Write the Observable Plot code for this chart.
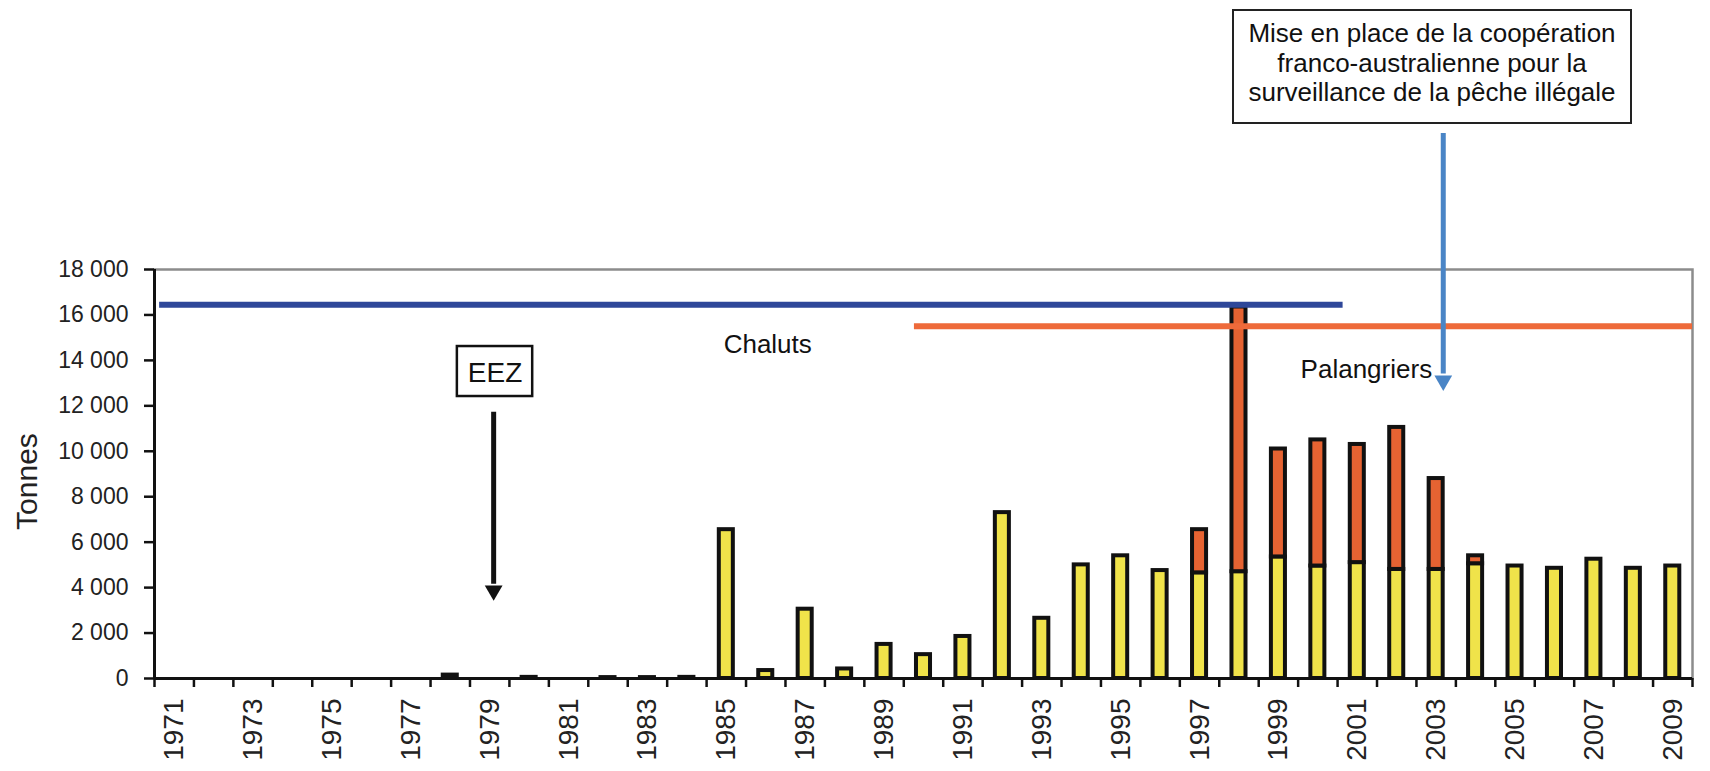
<!DOCTYPE html>
<html><head><meta charset="utf-8">
<script src="https://cdn.jsdelivr.net/npm/d3@7"></script>
<script src="https://cdn.jsdelivr.net/npm/@observablehq/plot@0.6"></script>
<style>
body{margin:0;background:#fff;font-family:"Liberation Sans",Arial,sans-serif}
#wrap{position:relative;width:1710px;height:771px}
#note{position:absolute;left:1232px;top:9px;width:400px;height:115px;box-sizing:border-box;border:2px solid #222;font-size:26px;line-height:29.5px;text-align:center;padding-top:8px;color:#111;background:#fff}
</style></head><body>
<div id="wrap"><div id="chart"></div><div id="note">Mise en place de la coopération<br>franco-australienne pour la<br>surveillance de la pêche illégale</div></div>
<script>
// Years (categories)
const years = [1971,1972,1973,1974,1975,1976,1977,1978,1979,1980,1981,1982,1983,1984,1985,1986,1987,1988,1989,1990,1991,1992,1993,1994,1995,1996,1997,1998,1999,2000,2001,2002,2003,2004,2005,2006,2007,2008,2009];
// Yellow series (tonnes)
const legalCatch = [0,0,0,0,0,0,0,150,0,50,0,40,40,50,6550,350,3050,420,1500,1050,1850,7300,2650,5000,5400,4750,4650,4700,5350,4950,5100,4800,4800,5050,4950,4850,5250,4850,4950];
// Orange series (tonnes)
const illegalCatch = [0,0,0,0,0,0,0,0,0,0,0,0,0,0,0,0,0,0,0,0,0,0,0,0,0,0,1900,11650,4750,5550,5200,6250,4000,350,0,0,0,0,0];
// Axis tick labels
const yTicks = [0,2000,4000,6000,8000,10000,12000,14000,16000,18000];
const xLabelYears = [1971,1973,1975,1977,1979,1981,1983,1985,1987,1989,1991,1993,1995,1997,1999,2001,2003,2005,2007,2009];
// Fleet periods (horizontal lines)
const fleetNames = ["Chaluts","Palangriers"];
const fleetStart = [1970.63, 1989.77];
const fleetEnd = [2000.64, 2009.5];
const fleetLevel = [16450, 15500];
const fleetColor = ["#2e4799","#ee6a3a"];
const fleetLabelX = [1986.05, 2001.23];
const fleetLabelY = [14670, 13570];
// Annotation arrows: EEZ (1979) and cooperation (2003)
const arrowX = [1979.1, 2003.18];
const arrowTop = [11720, 23990];
const arrowShaftEnd = [4150, 13400];
const arrowHead = [3870, 13110];
const arrowColor = ["#111","#4a85c6"];
const eezBox = {x1: 1978.18, x2: 1980.09, y1: 12410, y2: 14610, label: "EEZ", labelY: 13440};

const rows = years.map((y,i)=>({year:y, legal:legalCatch[i], illegal:illegalCatch[i]}));
const boundaries = [1970.5].concat(years.map(y=>y+0.5));
const fmt = d3.formatLocale({thousands:" ", grouping:[3], decimal:","}).format(",");
const fleets = fleetNames.map((n,i)=>({name:n, x1:fleetStart[i], x2:fleetEnd[i], y:fleetLevel[i], color:fleetColor[i], lx:fleetLabelX[i], ly:fleetLabelY[i]}));
const arrows = arrowX.map((x,i)=>({x, top:arrowTop[i], end:arrowShaftEnd[i], head:arrowHead[i], color:arrowColor[i]}));

const chart = Plot.plot({
  width: 1710, height: 771,
  marginLeft: 154, marginRight: 18, marginTop: 269, marginBottom: 93,
  style: {fontFamily: '"Liberation Sans", Arial, sans-serif', background: "transparent", color: "#222"},
  x: {domain: [1970.5, 2009.5], axis: null},
  y: {domain: [0, 18000], axis: null},
  marks: [
    Plot.frame({stroke: "#8c8c8c", strokeWidth: 2.5}),
    Plot.rect(rows.filter(d=>d.legal>0), {x1: d=>d.year-0.5, x2: d=>d.year+0.5, y1: 0, y2: "legal", insetLeft: 12.7, insetRight: 12.7, fill: "#f0e34a", stroke: "#111", strokeWidth: 4}),
    Plot.rect(rows.filter(d=>d.illegal>0), {x1: d=>d.year-0.5, x2: d=>d.year+0.5, y1: "legal", y2: d=>d.legal+d.illegal, insetLeft: 12.7, insetRight: 12.7, fill: "#e66332", stroke: "#111", strokeWidth: 4}),
    Plot.ruleY(fleets, {y: "y", x1: "x1", x2: "x2", stroke: "color", strokeWidth: 6}),
    Plot.text(fleets, {x: "lx", y: "ly", text: "name", fontSize: 26, fill: "#111", textAnchor: "middle", lineAnchor: "middle"}),
    Plot.ruleX([1970.5], {stroke: "#111", strokeWidth: 3}),
    Plot.ruleY([0], {stroke: "#111", strokeWidth: 3}),
    Plot.ruleX(boundaries, {x: d=>d, y1: 0, y2: 0, insetTop: 0, insetBottom: -9, stroke: "#111", strokeWidth: 2.5}),
    Plot.axisY({ticks: yTicks, tickSize: 10, tickPadding: 16, tickFormat: fmt, fontSize: 23, stroke: "#111", strokeWidth: 2.5, label: null}),
    Plot.text(xLabelYears, {x: d=>d, frameAnchor: "bottom", dy: 20, rotate: -90, text: d=>String(d), textAnchor: "end", lineAnchor: "middle", fontSize: 28, fill: "#222"}),
    Plot.text(["Tonnes"], {frameAnchor: "left", dx: -127, dy: 7.5, rotate: -90, textAnchor: "middle", lineAnchor: "middle", fontSize: 30, fill: "#222"}),
    Plot.rect([eezBox], {x1: "x1", x2: "x2", y1: "y1", y2: "y2", fill: "white", stroke: "#111", strokeWidth: 2.5}),
    Plot.text([eezBox], {x: d=>(d.x1+d.x2)/2, y: "labelY", text: "label", fontSize: 28, fill: "#111", textAnchor: "middle", lineAnchor: "middle"}),
    Plot.ruleX(arrows, {x: "x", y1: "top", y2: "end", stroke: "color", strokeWidth: 5}),
    Plot.dot(arrows, {x: "x", y: "head", symbol: "triangle", rotate: 180, r: 6.6, fill: "color", stroke: "none"})
  ]
});
document.getElementById("chart").appendChild(chart);
</script>
</body></html>
